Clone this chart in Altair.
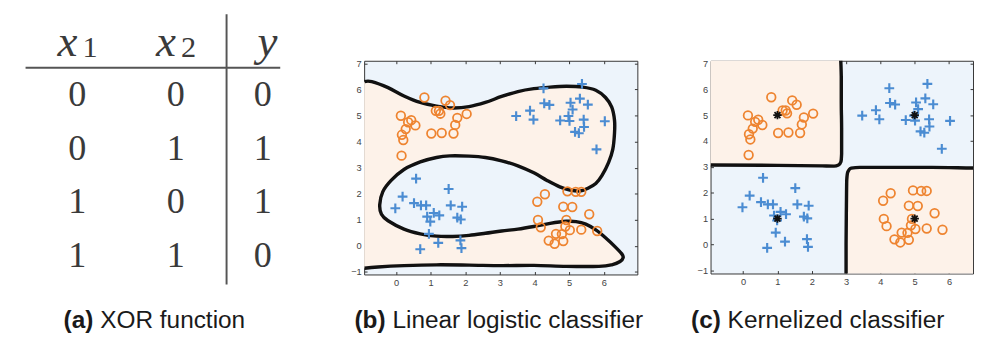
import altair as alt
import pandas as pd

# ---------------- (a) XOR table ----------------
table_header = ["x", "x", "y"]
table_subscripts = ["1", "2", ""]
table_x1 = [0, 0, 1, 1]
table_x2 = [0, 1, 0, 1]
table_y = [0, 1, 1, 0]

# ---------------- training points (shared by (b) and (c)) ----------------
orange_x = [0.82, 0.14, 0.44, 0.35, 0.28, 0.56, 0.17, 0.21, 0.16, 1.02, 1.32, 1.15, 1.24, 1.28, 1.43, 1.56, 1.77, 1.71, 1.66, 2.04,
            4.95, 5.19, 5.35, 4.30, 4.08, 4.83, 5.09, 5.58, 4.10, 4.92, 4.18, 4.89, 5.02, 5.35, 5.81, 4.62, 4.79, 4.41, 4.58, 4.83]
orange_y = [5.69, 4.99, 4.82, 4.74, 4.48, 4.62, 4.26, 4.06, 3.46, 4.31, 4.33, 5.18, 5.18, 5.07, 5.57, 5.40, 4.91, 4.64, 4.31, 5.06,
            2.09, 2.07, 2.07, 1.98, 1.69, 1.50, 1.49, 1.21, 0.99, 0.99, 0.71, 0.74, 0.60, 0.62, 0.57, 0.46, 0.45, 0.20, 0.08, 0.18]
blue_x = [4.26, 5.37, 4.28, 4.43, 5.04, 5.31, 5.10, 5.54, 3.47, 3.87, 3.97, 4.98, 5.01, 4.74, 5.42, 5.43, 5.17, 5.28, 6.03, 5.79,
          0.58, 0.19, 1.52, -0.02, 0.52, 0.72, 0.87, 1.58, 1.91, 1.09, 1.25, 0.90, 0.99, 1.77, 1.87, 0.95, 1.22, 1.86, 0.70, 1.89]
blue_y = [6.04, 6.21, 5.47, 5.41, 5.49, 5.65, 5.23, 5.42, 4.98, 5.19, 4.84, 4.98, 4.79, 4.81, 4.84, 4.56, 4.37, 4.32, 4.78, 3.70,
          2.58, 1.89, 2.18, 1.44, 1.64, 1.55, 1.55, 1.55, 1.50, 1.26, 1.17, 1.12, 0.93, 1.08, 1.01, 0.46, 0.11, 0.21, -0.13, -0.09]
center_x = [1, 1, 5, 5]
center_y = [1, 5, 1, 5]

# ---------------- (b) decision boundary (one serpentine curve) ----------------
lin_bx = [-0.91, -0.70, -0.23, 0.23, 0.70, 1.17, 1.64, 2.11, 2.58, 3.05, 3.52, 3.98, 4.45, 4.92, 5.39, 5.77, 6.05, 6.23,
          6.31, 6.31, 6.26, 6.14, 5.95, 5.77, 5.53, 5.30, 5.02, 4.73, 4.36, 3.98, 3.52, 3.05, 2.58, 2.11, 1.55, 1.17,
          0.70, 0.23, -0.14, -0.38, -0.47, -0.42, -0.23, 0.23, 0.70, 1.17, 1.64, 2.11, 2.58, 3.05, 3.52, 3.98, 4.45,
          4.92, 5.20, 5.48, 5.77, 6.05, 6.33, 6.52, 6.56, 6.47, 6.23, 5.86, 4.92, 3.98, 3.05, 2.11, 1.17, 0.23, -0.52, -0.91]
lin_by = [6.30, 6.30, 6.07, 5.75, 5.50, 5.36, 5.29, 5.34, 5.50, 5.73, 5.92, 6.03, 6.09, 6.12, 6.09, 5.97, 5.69, 5.32,
          4.82, 4.32, 3.70, 3.20, 2.70, 2.39, 2.20, 2.10, 2.14, 2.26, 2.51, 2.80, 3.07, 3.26, 3.39, 3.44, 3.45, 3.39,
          3.22, 2.93, 2.51, 2.08, 1.58, 1.21, 0.96, 0.64, 0.46, 0.37, 0.36, 0.40, 0.48, 0.57, 0.64, 0.74, 0.86,
          0.94, 0.93, 0.83, 0.61, 0.31, -0.04, -0.31, -0.45, -0.60, -0.73, -0.79, -0.79, -0.75, -0.76, -0.74, -0.73, -0.76, -0.81, -0.86]

# ---------------- (c) kernel boundary (two curves) and class-0 regions ----------------
ker_a_x = [-0.95, 1.00, 2.30, 2.65, 2.78, 2.85, 2.87, 2.87, 2.86, 2.86, 2.84]
ker_a_y = [3.07, 3.06, 3.04, 3.03, 3.07, 3.20, 3.50, 4.50, 5.50, 6.50, 7.20]
ker_b_x = [3.00, 3.00, 3.01, 3.02, 3.05, 3.15, 3.40, 4.50, 5.50, 6.50, 6.90]
ker_b_y = [-1.20, 0.00, 1.50, 2.50, 2.80, 2.95, 2.98, 2.98, 2.98, 2.96, 2.95]
ker_reg_x = [-1.50, 3.01]
ker_reg_x2 = [2.86, 7.50]
ker_reg_y = [3.05, -1.50]
ker_reg_y2 = [7.50, 2.98]

caption_tags = ["(a)", "(b)", "(c)"]
caption_texts = ["XOR function", "Linear logistic classifier", "Kernelized classifier"]

ORANGE = "#ee8430"
BLUE = "#4b8cd2"
BLUE_BG = "#edf4fb"
ORANGE_BG = "#fdf2e9"
CAP_SIZE = 25
CAP_Y = 266


def caption(i, x0, gap):
    df = pd.DataFrame({"b": [caption_tags[i]], "r": [caption_texts[i]]})
    l1 = alt.Chart(df).mark_text(align="left", baseline="middle", font="Liberation Sans",
                                 fontSize=CAP_SIZE, fontWeight="bold", color="#1a1a1a").encode(
        x=alt.value(x0), y=alt.value(CAP_Y), text="b:N")
    l2 = alt.Chart(df).mark_text(align="left", baseline="middle", font="Liberation Sans",
                                 fontSize=CAP_SIZE, color="#1a1a1a", dx=gap).encode(
        x=alt.value(x0), y=alt.value(CAP_Y), text="r:N")
    return [l1, l2]


# ================= panel (a) =================
cells = []
for r in range(4):
    for c, vals in enumerate([table_x1, table_x2, table_y]):
        cells.append({"row": r + 1, "col": c, "v": str(vals[r])})
cells = pd.DataFrame(cells)
hdr = pd.DataFrame({"row": [0, 0, 0], "col": [0, 1, 2], "m": table_header, "s": table_subscripts})

xs_a = alt.Scale(domain=[0, 1, 2], range=[71, 172, 261])
ys_a = alt.Scale(domain=[0.371, 4.365], reverse=True, nice=False, zero=False)
X_A = alt.X("col:Q", scale=xs_a, axis=None)
Y_A = alt.Y("row:Q", scale=ys_a, axis=None)
TXT = "#3a3a3a"

digits = alt.Chart(cells).mark_text(font="Liberation Serif", fontSize=37, color=TXT,
                                    baseline="alphabetic", dy=12).encode(x=X_A, y=Y_A, text="v:N")
hx = alt.Chart(hdr).transform_filter("datum.col < 2").mark_text(
    font="Liberation Serif", fontStyle="italic", fontSize=46, color=TXT,
    baseline="alphabetic", dy=15, dx=-10).encode(x=X_A, y=Y_A, text="m:N")
hs = alt.Chart(hdr).transform_filter("datum.col < 2").mark_text(
    font="Liberation Serif", fontSize=31, color=TXT,
    baseline="alphabetic", dy=16, dx=13).encode(x=X_A, y=Y_A, text="s:N")
hy = alt.Chart(hdr).transform_filter("datum.col == 2").mark_text(
    font="Liberation Serif", fontStyle="italic", fontSize=46, color=TXT,
    baseline="alphabetic", dy=15, dx=5).encode(x=X_A, y=Y_A, text="m:N")
rule_df = pd.DataFrame({"a": [0.5], "b": [-0.5], "c": [4.55]})
hrule = alt.Chart(rule_df).mark_rule(color="#555555", strokeWidth=2).encode(
    x=alt.value(18), x2=alt.value(279), y=alt.Y("a:Q", scale=ys_a, axis=None))
vrule = alt.Chart(rule_df).mark_rule(color="#555555", strokeWidth=2).encode(
    x=alt.value(224), y=alt.Y("b:Q", scale=ys_a, axis=None), y2="c:Q")

panel_a = alt.layer(hrule, vrule, digits, hx, hs, hy, *caption(0, 57, 37.5)).properties(
    width=303, height=219, view=alt.ViewBackground(stroke=None, fill=None))


# ================= axes helpers =================
def axis_set(xv, yv):
    common = dict(offset=-3, tickSize=3, domain=False, grid=False, title=None,
                  tickColor="#333333", tickWidth=1)
    bottom = alt.Axis(orient="bottom", values=xv, labelPadding=3, labelFont="Liberation Sans",
                      labelFontSize=9.5, labelColor="#444444", **common)
    left = alt.Axis(orient="left", values=yv, labelPadding=3, labelFont="Liberation Sans",
                    labelFontSize=9.5, labelColor="#444444", **common)
    top = alt.Axis(orient="top", values=xv, labels=False, **common)
    right = alt.Axis(orient="right", values=yv, labels=False, **common)
    return bottom, left, top, right


xticks = list(range(0, 7))
yticks = list(range(-1, 8))
pts_o = pd.DataFrame({"x": orange_x, "y": orange_y})
pts_b = pd.DataFrame({"x": blue_x, "y": blue_y})
PLUS = "M-1,0H1M0,-1V1"
STAR = "M-1,0H1M0,-1V1M-0.7,-0.7L0.7,0.7M-0.7,0.7L0.7,-0.7"


def point_layers(sx, sy):
    o = alt.Chart(pts_o).mark_point(shape="circle", filled=False, size=78, strokeWidth=1.8,
                                    color=ORANGE, opacity=1).encode(
        x=alt.X("x:Q", scale=sx, axis=None), y=alt.Y("y:Q", scale=sy, axis=None))
    b = alt.Chart(pts_b).mark_point(shape=PLUS, filled=False, size=100, strokeWidth=2.2,
                                    color=BLUE, opacity=1).encode(
        x=alt.X("x:Q", scale=sx, axis=None), y=alt.Y("y:Q", scale=sy, axis=None))
    return [o, b]


TITLE_PAD = alt.TitleParams(" ", fontSize=10, offset=37, anchor="start")

# ================= panel (b) =================
sx_b = alt.Scale(domain=[-0.92, 6.97], nice=False, zero=False)
sy_b = alt.Scale(domain=[-1.1, 7.1], nice=False, zero=False)
ab, al, at, ar = axis_set(xticks, yticks)
curve_b = pd.DataFrame({"x": lin_bx, "y": lin_by, "i": range(len(lin_bx))})
poly_b = pd.concat([
    pd.DataFrame({"x": [-1.6], "y": [lin_by[0]], "i": [-1]}),
    curve_b,
    pd.DataFrame({"x": [-1.6], "y": [lin_by[-1]], "i": [len(lin_bx)]}),
])
fill_b = alt.Chart(poly_b).mark_line(fill=ORANGE_BG, strokeWidth=0, interpolate="linear-closed",
                                     clip=True).encode(
    x=alt.X("x:Q", scale=sx_b, axis=ab), y=alt.Y("y:Q", scale=sy_b, axis=al), order="i:Q")
line_b = alt.Chart(curve_b).mark_line(color="#111111", strokeWidth=3.5, interpolate="cardinal",
                                      clip=True).encode(
    x=alt.X("x:Q", scale=sx_b, axis=at), y=alt.Y("y:Q", scale=sy_b, axis=ar), order="i:Q")

panel_b = alt.layer(fill_b, line_b, *point_layers(sx_b, sy_b), *caption(1, -10, 39)).properties(
    width=280, height=219, title=TITLE_PAD,
    view=alt.ViewBackground(fill=BLUE_BG, stroke="#333333", strokeWidth=1)
).resolve_axis(x="independent", y="independent")

# ================= panel (c) =================
sx_c = alt.Scale(domain=[-0.95, 6.70], nice=False, zero=False)
sy_c = alt.Scale(domain=[-1.12, 7.10], nice=False, zero=False)
cb, cl, ct, cr = axis_set(xticks, yticks)
regions = pd.DataFrame({"x": ker_reg_x, "x2": ker_reg_x2, "y": ker_reg_y, "y2": ker_reg_y2})
rect_c = alt.Chart(regions).mark_rect(color=ORANGE_BG, clip=True).encode(
    x=alt.X("x:Q", scale=sx_c, axis=cb), x2="x2:Q",
    y=alt.Y("y:Q", scale=sy_c, axis=cl), y2="y2:Q")
curve_c = pd.concat([
    pd.DataFrame({"x": ker_a_x, "y": ker_a_y, "seg": "a", "i": range(len(ker_a_x))}),
    pd.DataFrame({"x": ker_b_x, "y": ker_b_y, "seg": "b", "i": range(len(ker_b_x))}),
])
line_c = alt.Chart(curve_c).mark_line(color="#111111", strokeWidth=3.5, interpolate="monotone",
                                      clip=True).encode(
    x=alt.X("x:Q", scale=sx_c, axis=ct), y=alt.Y("y:Q", scale=sy_c, axis=cr),
    detail="seg:N", order="i:Q")
centers = pd.DataFrame({"x": center_x, "y": center_y})
star_c = alt.Chart(centers).mark_point(shape=STAR, filled=False, size=75, strokeWidth=1.8,
                                       color="#111111", opacity=1).encode(
    x=alt.X("x:Q", scale=sx_c, axis=None), y=alt.Y("y:Q", scale=sy_c, axis=None))

panel_c = alt.layer(rect_c, line_c, *point_layers(sx_c, sy_c), star_c, *caption(2, -20, 37.5)).properties(
    width=269, height=218, title=TITLE_PAD,
    view=alt.ViewBackground(fill=BLUE_BG, stroke="#333333", strokeWidth=1)
).resolve_axis(x="independent", y="independent")

chart = alt.hconcat(panel_a, panel_b, panel_c, spacing=47).properties(
    padding=0, background="white")

chart.save("out.html", embed_options={"renderer": "svg", "actions": False})
